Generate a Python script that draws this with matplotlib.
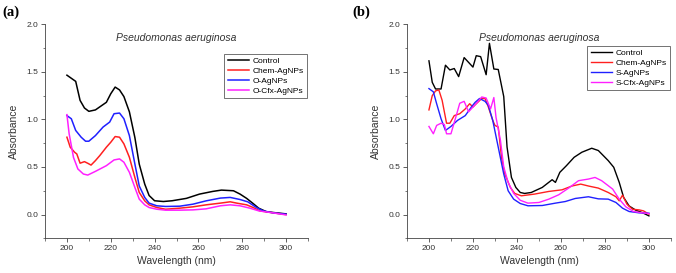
import matplotlib
matplotlib.use("Agg")
import matplotlib.pyplot as plt
from matplotlib.ticker import MultipleLocator

plt.rcParams['font.family'] = ['Liberation Sans', 'DejaVu Sans']

# ---- panel (a): O-AgNPs series ----
a_ctrl_x = [200, 204, 206, 208, 210, 213, 218, 220, 222, 224, 226, 228.5, 231, 233, 235.5, 237.5,
            240, 244, 248, 254.5, 260.5, 266.5, 270.5, 276, 279, 282, 285, 287.5, 291, 295.5, 300]
a_ctrl_y = [1.465, 1.40, 1.20, 1.12, 1.085, 1.10, 1.18, 1.27, 1.34, 1.31, 1.24, 1.08, 0.81, 0.53, 0.32, 0.20,
            0.145, 0.137, 0.145, 0.17, 0.215, 0.243, 0.257, 0.25, 0.215, 0.17, 0.115, 0.067, 0.03, 0.018, 0.007]

a_chem_x = [200, 201.5, 203.5, 204.5, 206, 208, 209.5, 211, 213, 215, 218, 220, 222, 224, 226, 228.5,
            231, 233, 235.5, 237.5, 241, 245, 251.5, 257.5, 263.5, 270, 274.5, 277.5, 282, 285, 288, 294, 300]
a_chem_y = [0.813, 0.708, 0.655, 0.637, 0.54, 0.556, 0.539, 0.52, 0.567, 0.62, 0.708, 0.76, 0.82, 0.813,
            0.743, 0.602, 0.39, 0.232, 0.144, 0.102, 0.074, 0.056, 0.067, 0.081, 0.102, 0.12, 0.134, 0.12,
            0.102, 0.074, 0.039, 0.018, 0.0]

a_o_x = [200, 202, 204, 206.5, 208.5, 210, 213, 216.5, 219.5, 221.5, 224, 226, 228.5, 231, 233, 235.5,
         237.5, 241, 245, 251.5, 257.5, 263.5, 270, 274.5, 279, 282.5, 286.5, 289.5, 294, 300]
a_o_y = [1.04, 1.007, 0.884, 0.813, 0.771, 0.771, 0.83, 0.92, 0.972, 1.06, 1.067, 1.007, 0.83, 0.532,
         0.30, 0.18, 0.12, 0.092, 0.085, 0.088, 0.109, 0.144, 0.173, 0.18, 0.158, 0.134, 0.074, 0.039,
         0.018, 0.004]

a_ocfx_x = [200, 201, 203, 205, 207.5, 209.5, 213, 218, 221.5, 224, 226, 228.5, 231, 233, 235.5, 237.5,
            241, 245, 251.5, 257.5, 263.5, 270, 274.5, 279, 283.5, 287.5, 294, 300]
a_ocfx_y = [1.05, 0.85, 0.60, 0.479, 0.426, 0.415, 0.454, 0.514, 0.574, 0.585, 0.55, 0.444, 0.285, 0.162,
            0.102, 0.074, 0.056, 0.046, 0.046, 0.049, 0.06, 0.092, 0.102, 0.092, 0.067, 0.039, 0.018, -0.004]

# ---- panel (b): S-AgNPs series ----
b_ctrl_x = [200, 201.5, 203, 205.5, 207.5, 209.5, 211.5, 213.5, 216, 218, 220, 221.5, 223.5, 226, 227.5,
            229.5, 231.5, 234, 235.5, 237.5, 239.5, 241.5, 243.5, 246.5, 251.5, 256, 257.5, 259.5, 262.5,
            266, 269.5, 274, 277, 281.5, 284, 286.5, 288.5, 291, 294, 297, 300]
b_ctrl_y = [1.616, 1.39, 1.32, 1.32, 1.57, 1.52, 1.535, 1.45, 1.65, 1.60, 1.55, 1.67, 1.66, 1.47, 1.80,
            1.53, 1.525, 1.24, 0.71, 0.39, 0.285, 0.232, 0.222, 0.232, 0.285, 0.366, 0.338, 0.444, 0.514,
            0.602, 0.655, 0.697, 0.673, 0.567, 0.497, 0.338, 0.18, 0.09, 0.046, 0.02, -0.014]

b_chem_x = [200, 201.5, 203, 204.5, 206, 208, 209.5, 211.5, 214, 216.5, 218.5, 220, 221.5, 224, 225.5, 227,
            229, 230, 231.5, 233, 234.5, 237, 239, 242, 248, 254.5, 260.5, 265, 269, 272.5, 277, 281.5,
            285, 286.5, 288, 290, 292.5, 295.5, 297.5, 300]
b_chem_y = [1.10, 1.25, 1.30, 1.31, 1.20, 0.96, 0.96, 1.04, 1.06, 1.11, 1.165, 1.13, 1.165, 1.22, 1.22, 1.13,
            0.99, 0.937, 0.92, 0.60, 0.426, 0.285, 0.222, 0.197, 0.215, 0.243, 0.26, 0.30, 0.32, 0.30,
            0.278, 0.232, 0.187, 0.144, 0.204, 0.109, 0.056, 0.049, 0.039, 0.004]

b_s_x = [200, 202, 203.5, 205.5, 207.5, 210, 213, 216.5, 219.5, 221, 223, 225.5, 227, 229, 231.5, 234,
         236, 238.5, 241.5, 245, 251.5, 257.5, 262, 266.5, 272.5, 277, 281.5, 285, 288, 291, 295.5, 300]
b_s_y = [1.324, 1.29, 1.165, 1.007, 0.884, 0.926, 0.99, 1.04, 1.137, 1.18, 1.22, 1.19, 1.148, 0.99, 0.708,
         0.426, 0.25, 0.162, 0.116, 0.092, 0.095, 0.12, 0.137, 0.169, 0.187, 0.165, 0.162, 0.127, 0.067,
         0.032, 0.018, 0.014]

b_scfx_x = [200, 202, 203.5, 205.5, 207, 208, 210, 212, 214, 216, 218, 220, 222, 224, 226, 228, 229.5,
            230.5, 232.5, 234, 236, 238.5, 241.5, 245, 250, 254.5, 259, 263.5, 268, 272.5, 275.5, 278.5,
            283.5, 286.5, 289.5, 293, 297, 300]
b_scfx_y = [0.926, 0.849, 0.937, 0.96, 0.947, 0.849, 0.849, 1.007, 1.17, 1.19, 1.08, 1.13, 1.18, 1.236,
            1.225, 1.11, 1.23, 1.02, 0.78, 0.50, 0.338, 0.222, 0.15, 0.12, 0.127, 0.162, 0.208, 0.278,
            0.356, 0.373, 0.39, 0.356, 0.268, 0.162, 0.081, 0.032, 0.018, 0.01]

a_labels = ['Control', 'Chem-AgNPs', 'O-AgNPs', 'O-Cfx-AgNPs']
b_labels = ['Control', 'Chem-AgNPs', 'S-AgNPs', 'S-Cfx-AgNPs']
colors = ['black', '#ff2020', '#2020ff', '#ff20ff']
title = 'Pseudomonas aeruginosa'


def style_axes(ax):
    ax.set_xlim(190, 310)
    ax.set_ylim(-0.25, 2.0)
    ax.xaxis.set_minor_locator(MultipleLocator(10))
    ax.yaxis.set_minor_locator(MultipleLocator(0.25))
    ax.set_xticks(range(200, 301, 20))
    ax.set_yticks([0.0, 0.5, 1.0, 1.5, 2.0])
    ax.yaxis.set_major_formatter(plt.FormatStrFormatter('%.1f'))
    for side in ['top', 'right']:
        ax.spines[side].set_visible(False)
    for side in ['left', 'bottom']:
        ax.spines[side].set_linewidth(0.6)
        ax.spines[side].set_color('#444444')
    ax.tick_params(which='major', direction='out', length=3, width=0.6, colors='#444444',
                   labelsize=6, labelcolor='#333333', pad=2)
    ax.tick_params(which='minor', direction='out', length=1.8, width=0.5, colors='#444444')
    ax.set_xlabel('Wavelength (nm)', fontsize=7.5, color='#333333', labelpad=3)
    ax.set_ylabel('Absorbance', fontsize=7.5, color='#333333', labelpad=5)


def add_legend(ax, right_px, top_px):
    leg = ax.legend(loc='upper right', bbox_to_anchor=(right_px / 676, 1 - top_px / 273),
                    bbox_transform=fig.transFigure, fontsize=6, frameon=True, fancybox=False,
                    handlelength=2.6, handletextpad=0.4, borderpad=0.4, labelspacing=0.25,
                    borderaxespad=0)
    leg.get_frame().set_edgecolor('#333333')
    leg.get_frame().set_linewidth(0.6)


fig = plt.figure(figsize=(6.76, 2.73), dpi=100)

ax1 = fig.add_axes([0.0666, 0.127, 0.389, 0.784])
series_a = [(a_ctrl_x, a_ctrl_y), (a_chem_x, a_chem_y), (a_o_x, a_o_y), (a_ocfx_x, a_ocfx_y)]
for (x, y), lab, c in zip(series_a, a_labels, colors):
    ax1.plot(x, y, color=c, lw=1.1, label=lab)
style_axes(ax1)
ax1.text(0.5, 0.935, title, transform=ax1.transAxes, ha='center', va='center',
         fontsize=7.5, style='italic', color='#333333')
add_legend(ax1, 307, 54)

ax2 = fig.add_axes([0.602, 0.127, 0.3905, 0.784])
series_b = [(b_ctrl_x, b_ctrl_y), (b_chem_x, b_chem_y), (b_s_x, b_s_y), (b_scfx_x, b_scfx_y)]
for (x, y), lab, c in zip(series_b, b_labels, colors):
    ax2.plot(x, y, color=c, lw=1.0, label=lab)
style_axes(ax2)
ax2.text(0.5, 0.935, title, transform=ax2.transAxes, ha='center', va='center',
         fontsize=7.5, style='italic', color='#333333')
add_legend(ax2, 670, 46)

fig.text(0.003, 0.955, '(a)', fontsize=10.5, fontweight='bold', family='Liberation Serif',
         ha='left', va='center')
fig.text(0.522, 0.955, '(b)', fontsize=10.5, fontweight='bold', family='Liberation Serif',
         ha='left', va='center')

fig.savefig('out.png', dpi=100)
